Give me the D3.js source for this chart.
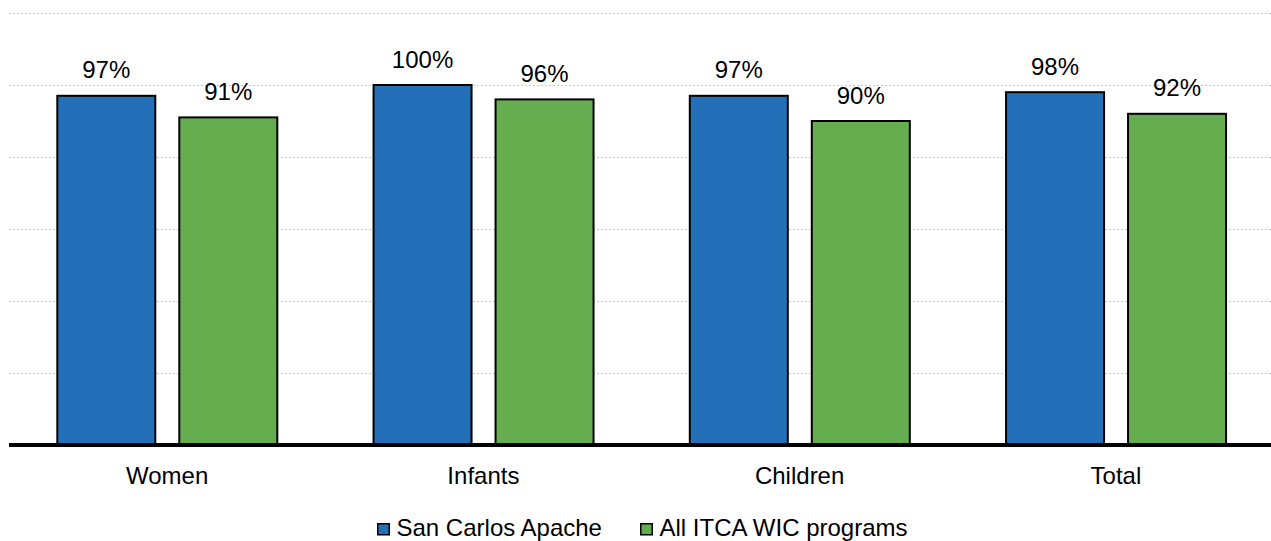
<!DOCTYPE html>
<html><head><meta charset="utf-8">
<script src="https://cdn.jsdelivr.net/npm/d3@7"></script>
<style>body{margin:0;background:#fff}svg{display:block}text{font-family:Arial,"Liberation Sans",sans-serif}</style>
</head><body><svg id="c" width="1271" height="541"></svg>
<script>
const categories = ["Women","Infants","Children","Total"];
const seriesNames = ["San Carlos Apache","All ITCA WIC programs"];
const sanCarlos = [97,100,97,98];
const allItca = [91,96,90,92];
const yTicks = [0,20,40,60,80,100,120];
const colors = ["#2370b8","#66ad50"];

const svg = d3.select("#c");
const x0 = d3.scaleBand().domain(categories).range([9,1274]).paddingInner(0).paddingOuter(0);
const x1 = d3.scaleBand().domain(seriesNames).range([48.3, 268.3]).paddingInner(24/122).paddingOuter(0);
const y = d3.scaleLinear().domain([0,120]).range([445,13]);

// gridlines
svg.append("g").selectAll("line").data(yTicks.filter(d=>d>0)).join("line")
  .attr("x1",9).attr("x2",1271).attr("y1",d=>Math.round(y(d))+0.5).attr("y2",d=>Math.round(y(d))+0.5)
  .attr("stroke","#c8c8c8").attr("stroke-width",1).attr("stroke-dasharray","2,2");

const data = categories.map((c,i)=>({cat:c, vals:[sanCarlos[i], allItca[i]]}));
const g = svg.append("g").selectAll("g").data(data).join("g")
  .attr("transform",d=>`translate(${x0(d.cat)},0)`);
g.selectAll("rect").data(d=>d.vals.map((v,j)=>({s:seriesNames[j],v,j}))).join("rect")
  .attr("x",d=>x1(d.s)).attr("width",x1.bandwidth())
  .attr("y",d=>y(d.v)).attr("height",d=>y(0)-y(d.v))
  .attr("fill",d=>colors[d.j]).attr("stroke","#000").attr("stroke-width",2);
g.selectAll("text").data(d=>d.vals.map((v,j)=>({s:seriesNames[j],v,j}))).join("text")
  .attr("x",d=>x1(d.s)+x1.bandwidth()/2).attr("y",d=>y(d.v)-17.5)
  .attr("text-anchor","middle").attr("font-size",24).attr("fill","#000")
  .text(d=>d.v+"%");

// baseline
svg.append("line").attr("x1",9).attr("x2",1271).attr("y1",445).attr("y2",445)
  .attr("stroke","#000").attr("stroke-width",4);

// x axis labels
const xAxis = d3.axisBottom(x0).tickSize(0).tickPadding(0);
const ax = svg.append("g").attr("transform","translate(0,445)").call(xAxis);
ax.select(".domain").remove();
ax.selectAll("text").attr("font-size",24).attr("fill","#000").attr("dy",0).attr("y",39.3)
  .style("font-family","Arial, 'Liberation Sans', sans-serif");

// legend
const legX = [377, 640];
const leg = svg.append("g").selectAll("g").data(seriesNames).join("g")
  .attr("transform",(d,i)=>`translate(${legX[i]},523)`);
leg.append("rect").attr("x",0.75).attr("y",0.75).attr("width",11.5).attr("height",11)
  .attr("fill",(d,i)=>colors[i]).attr("stroke","#000").attr("stroke-width",1.5);
leg.append("text").attr("x",19.5).attr("y",12.7).attr("font-size",24).attr("fill","#000").text(d=>d);
</script></body></html>
